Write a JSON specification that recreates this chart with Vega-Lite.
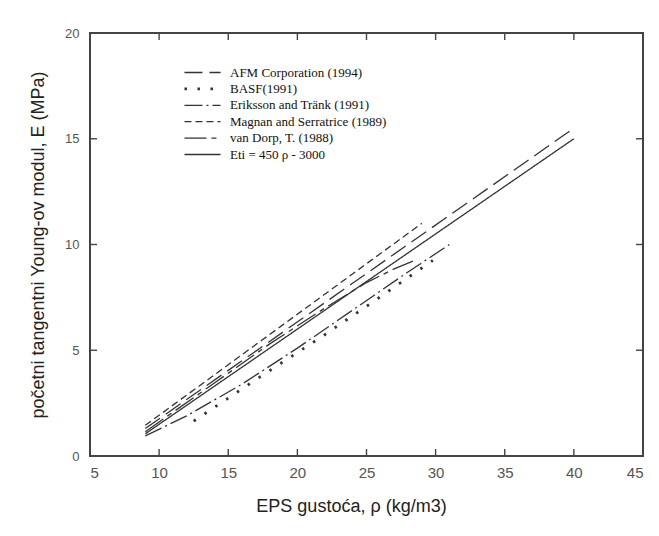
{
  "$schema": "https://vega.github.io/schema/vega-lite/v6.json",
  "width": 553,
  "height": 423,
  "autosize": "none",
  "padding": {"left": 90, "top": 33, "right": 16, "bottom": 80},
  "config": {
    "view": {"stroke": null},
    "axis": {"grid": false, "labelFont": "Liberation Sans", "labelColor": "#555", "titleFont": "Liberation Sans", "titleFontWeight": "normal", "titleColor": "#222"}
  },
  "datasets": {
    "curves": [
      {"series": "AFM Corporation (1994)", "rho": 9, "E": 1.3},
      {"series": "AFM Corporation (1994)", "rho": 40, "E": 15.5},
      {"series": "BASF(1991)", "rho": 12.5, "E": 1.65},
      {"series": "BASF(1991)", "rho": 17.3, "E": 3.74},
      {"series": "BASF(1991)", "rho": 21.9, "E": 5.7},
      {"series": "BASF(1991)", "rho": 25.5, "E": 7.3},
      {"series": "BASF(1991)", "rho": 29.8, "E": 9.25},
      {"series": "Eriksson and Tränk (1991)", "rho": 9, "E": 0.95},
      {"series": "Eriksson and Tränk (1991)", "rho": 12, "E": 1.9},
      {"series": "Eriksson and Tränk (1991)", "rho": 16, "E": 3.4},
      {"series": "Eriksson and Tränk (1991)", "rho": 20, "E": 5.1},
      {"series": "Eriksson and Tränk (1991)", "rho": 24, "E": 6.9},
      {"series": "Eriksson and Tränk (1991)", "rho": 28, "E": 8.7},
      {"series": "Eriksson and Tränk (1991)", "rho": 31, "E": 10.0},
      {"series": "Magnan and Serratrice (1989)", "rho": 9, "E": 1.45},
      {"series": "Magnan and Serratrice (1989)", "rho": 29, "E": 11.0},
      {"series": "van Dorp, T. (1988)", "rho": 9, "E": 1.15},
      {"series": "van Dorp, T. (1988)", "rho": 14, "E": 3.45},
      {"series": "van Dorp, T. (1988)", "rho": 18, "E": 5.3},
      {"series": "van Dorp, T. (1988)", "rho": 22, "E": 7.0},
      {"series": "van Dorp, T. (1988)", "rho": 25, "E": 8.2},
      {"series": "van Dorp, T. (1988)", "rho": 27, "E": 8.85},
      {"series": "van Dorp, T. (1988)", "rho": 28.7, "E": 9.3},
      {"series": "Eti = 450 ρ - 3000", "rho": 9, "E": 1.05},
      {"series": "Eti = 450 ρ - 3000", "rho": 40, "E": 15.0}
    ],
    "xticks": [{"v": 10}, {"v": 15}, {"v": 20}, {"v": 25}, {"v": 30}, {"v": 35}, {"v": 40}],
    "yticks": [{"v": 5}, {"v": 10}, {"v": 15}]
  },
  "data": {"name": "curves"},
  "layer": [
    {
      "mark": {"type": "rect", "fill": null, "stroke": "#444", "strokeWidth": 1.5},
      "encoding": {
        "x": {"datum": 5, "type": "quantitative", "scale": {"domain": [5, 45], "nice": false, "zero": false}},
        "x2": {"datum": 45},
        "y": {"datum": 0, "type": "quantitative", "scale": {"domain": [0, 20], "nice": false}},
        "y2": {"datum": 20}
      }
    },
    {
      "data": {"name": "xticks"},
      "mark": {"type": "tick", "orient": "vertical", "color": "#444", "opacity": 1, "size": 7, "thickness": 1.4, "yOffset": -3.5},
      "encoding": {
        "x": {"field": "v", "type": "quantitative"},
        "y": {"datum": 0, "type": "quantitative"}
      }
    },
    {
      "data": {"name": "xticks"},
      "mark": {"type": "tick", "orient": "vertical", "color": "#444", "opacity": 1, "size": 7, "thickness": 1.4, "yOffset": 3.5},
      "encoding": {
        "x": {"field": "v", "type": "quantitative"},
        "y": {"datum": 20, "type": "quantitative"}
      }
    },
    {
      "data": {"name": "yticks"},
      "mark": {"type": "tick", "orient": "horizontal", "color": "#444", "opacity": 1, "size": 7, "thickness": 1.4, "xOffset": 3.5},
      "encoding": {
        "y": {"field": "v", "type": "quantitative"},
        "x": {"datum": 5, "type": "quantitative"}
      }
    },
    {
      "data": {"name": "yticks"},
      "mark": {"type": "tick", "orient": "horizontal", "color": "#444", "opacity": 1, "size": 7, "thickness": 1.4, "xOffset": -3.5},
      "encoding": {
        "y": {"field": "v", "type": "quantitative"},
        "x": {"datum": 45, "type": "quantitative"}
      }
    },
    {
      "mark": {"type": "line", "color": "#333"},
      "encoding": {
        "x": {
          "field": "rho", "type": "quantitative",
          "axis": {
            "orient": "bottom", "values": [5, 10, 15, 20, 25, 30, 35, 40, 45],
            "domain": false, "ticks": false, "labelPadding": 9, "labelFontSize": 15,
            "title": "EPS gustoća, ρ (kg/m3)", "titleFontSize": 18,
            "titleX": 261, "titleY": 55, "titleBaseline": "alphabetic"
          }
        },
        "y": {
          "field": "E", "type": "quantitative",
          "axis": {
            "orient": "left", "values": [0, 5, 10, 15, 20],
            "domain": false, "ticks": false, "labelPadding": 11, "labelFontSize": 13,
            "title": "početni tangentni Young-ov modul, E  (MPa)", "titleFontSize": 18,
            "titleX": -47, "titleBaseline": "alphabetic"
          }
        },
        "detail": {"field": "series"},
        "strokeDash": {
          "field": "series", "type": "nominal",
          "scale": {
            "domain": ["AFM Corporation (1994)", "BASF(1991)", "Eriksson and Tränk (1991)", "Magnan and Serratrice (1989)", "van Dorp, T. (1988)", "Eti = 450 ρ - 3000"],
            "range": [[18, 7], [2.5, 10.5], [18, 4, 2, 4], [7, 4], [22, 5, 5, 5], [1, 0]]
          },
          "legend": {
            "orient": "none", "legendX": 93, "legendY": 33, "title": null,
            "symbolType": "stroke", "symbolSize": 1300, "symbolStrokeColor": "#333",
            "labelFont": "Liberation Serif", "labelFontSize": 13, "labelColor": "#111",
            "clipHeight": 13, "rowPadding": 2.4, "labelOffset": 8
          }
        },
        "strokeWidth": {
          "field": "series", "type": "nominal",
          "scale": {
            "type": "ordinal",
            "domain": ["AFM Corporation (1994)", "BASF(1991)", "Eriksson and Tränk (1991)", "Magnan and Serratrice (1989)", "van Dorp, T. (1988)", "Eti = 450 ρ - 3000"],
            "range": [1.3, 2.8, 1.3, 1.3, 1.3, 1.3]
          },
          "legend": {
            "orient": "none", "legendX": 93, "legendY": 33, "title": null,
            "symbolType": "stroke", "symbolSize": 1300, "symbolStrokeColor": "#333",
            "labelFont": "Liberation Serif", "labelFontSize": 13, "labelColor": "#111",
            "clipHeight": 13, "rowPadding": 2.4, "labelOffset": 8
          }
        }
      }
    }
  ]
}
